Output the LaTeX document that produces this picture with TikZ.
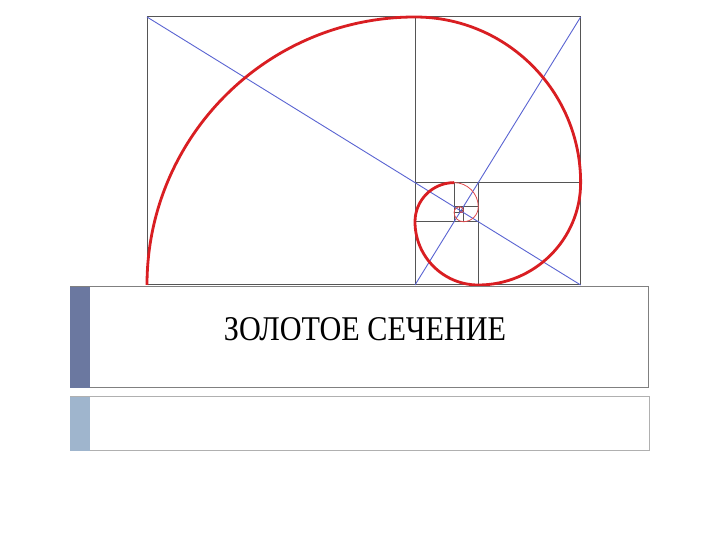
\documentclass[tikz,border=0pt]{standalone}
\usepackage{fontspec}
\setmainfont{Liberation Serif}
\definecolor{gridgray}{HTML}{555555}
\definecolor{diagblue}{HTML}{5A64D2}
\definecolor{spiralred}{HTML}{D91E22}
\definecolor{bardark}{HTML}{6B78A0}
\definecolor{barlight}{HTML}{9FB5CD}
\definecolor{borderdark}{HTML}{808080}
\definecolor{borderlight}{HTML}{B0B0B0}
\tikzset{
  gridline/.style={draw=gridgray, line width=1pt},
  diagline/.style={draw=diagblue, line width=0.9pt},
  spiralthick/.style={draw=spiralred, line width=2.8pt},
  spiralthin/.style={draw=spiralred!80, line width=0.8pt},
}
\begin{document}
\begin{tikzpicture}[x=1pt,y=1pt]
\useasboundingbox (0,0) rectangle (720,540);
\fill[white] (0,0) rectangle (720,540);
% squares
\draw[gridline] (147,255) rectangle (580.636,523);
\draw[gridline] (415,255) -- (415,523);
\draw[gridline] (415,357.364) -- (580.636,357.364);
\draw[gridline] (478.268,255) -- (478.268,357.364);
\draw[gridline] (415,318.268) -- (478.268,318.268);
\draw[gridline] (454.101,318.268) -- (454.101,357.364);
\draw[gridline] (454.101,333.198) -- (478.268,333.198);
\draw[gridline] (463.333,318.268) -- (463.333,333.198);
\draw[gridline, line width=0.7pt] (454.101,327.5) -- (463.333,327.5);
\draw[gridline, line width=0.7pt] (459.806,327.5) -- (459.806,333.198);
\draw[gridline, line width=0.5pt] (459.806,329.672) -- (463.333,329.672);
% diagonals
\draw[diagline] (147,523) -- (580.636,255);
\draw[diagline] (580.636,523) -- (415,255);
% spiral
\draw[spiralthick] (147,255)
  arc[start angle=180, end angle=90, radius=268]
  arc[start angle=90, end angle=0, radius=165.636]
  arc[start angle=0, end angle=-90, radius=102.368]
  arc[start angle=-90, end angle=-180, radius=63.268]
  arc[start angle=180, end angle=90, radius=39.101];
\draw[spiralthin] (454.101,357.369)
  arc[start angle=90, end angle=0, radius=24.166]
  arc[start angle=0, end angle=-90, radius=14.935]
  arc[start angle=-90, end angle=-180, radius=9.231]
  arc[start angle=180, end angle=90, radius=5.705]
  arc[start angle=90, end angle=0, radius=3.526]
  arc[start angle=0, end angle=-90, radius=2.179]
  arc[start angle=-90, end angle=-180, radius=1.347];
% panels
\draw[draw=borderdark, line width=1pt, fill=white] (70,152) rectangle (648,253);
\fill[bardark] (70,152) rectangle (89.5,253);
\draw[draw=borderlight, line width=1pt, fill=white] (70,89) rectangle (649,143);
\fill[barlight] (70,89) rectangle (89.5,143);
\node[anchor=base, inner sep=0pt] (title) at (365,199)
  {\scalebox{0.87}[1]{\fontsize{34.7}{40}\selectfont ЗОЛОТОЕ СЕЧЕНИЕ}};
\end{tikzpicture}
\end{document}
